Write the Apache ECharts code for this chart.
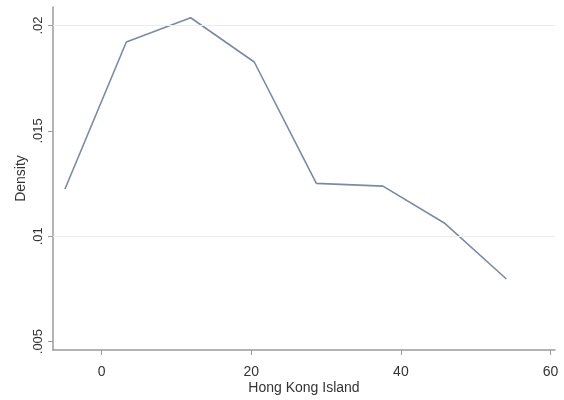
<!DOCTYPE html>
<html>
<head>
<meta charset="utf-8">
<script src="https://cdn.jsdelivr.net/npm/echarts@6/dist/echarts.min.js"></script>
<style>html,body{margin:0;padding:0;background:#fff}#c{width:564px;height:400px}</style>
</head>
<body>
<div id="c"></div>
<script>
const xValues = [-4.9, 3.3, 11.9, 20.4, 28.7, 37.6, 45.8, 54.1];
const densityValues = [0.01224, 0.01922, 0.02037, 0.01827, 0.01251, 0.01238, 0.01063, 0.00797];
const xTicks = [0, 20, 40, 60];
const yTicks = [0.005, 0.01, 0.015, 0.02];
const xTitle = 'Hong Kong Island';
const yTitle = 'Density';

const chart = echarts.init(document.getElementById('c'));
const font = 'Liberation Sans, Arial, sans-serif';
chart.setOption({
  animation: false,
  backgroundColor: '#fff',
  grid: { left: 53, right: 9, top: 7, bottom: 42 },
  xAxis: {
    type: 'value', min: -6.5, max: 60.6,
    name: xTitle, nameLocation: 'middle', nameGap: 31, nameMoveOverlap: false,
    nameTextStyle: { fontFamily: font, fontSize: 14, color: '#333' },
    axisLine: { show: true, onZero: false, lineStyle: { color: '#9a9a9a', width: 1.5 } },
    axisTick: { show: true, customValues: xTicks, length: 5, lineStyle: { color: '#9a9a9a' } },
    axisLabel: { customValues: xTicks, margin: 15, fontFamily: font, fontSize: 14, color: '#333' },
    splitLine: { show: false }
  },
  yAxis: {
    type: 'value', min: 0.0046, max: 0.02088,
    name: yTitle, nameLocation: 'middle', nameGap: 25, nameRotate: 90, nameMoveOverlap: false,
    nameTextStyle: { fontFamily: font, fontSize: 14, color: '#333' },
    axisLine: { show: true, onZero: false, lineStyle: { color: '#9a9a9a', width: 1.5 } },
    axisTick: { show: true, customValues: yTicks, length: 5, lineStyle: { color: '#9a9a9a' } },
    axisLabel: {
      customValues: yTicks, rotate: 90, margin: 8, fontFamily: font, fontSize: 13, color: '#333',
      formatter: v => String(v).replace(/^0/, '')
    },
    splitLine: { show: false }
  },
  series: [{
    type: 'line',
    data: xValues.map((x, i) => [x, densityValues[i]]),
    showSymbol: false,
    lineStyle: { color: '#7a8aa6', width: 1.6 },
    itemStyle: { color: '#7a8aa6' },
    markLine: {
      silent: true, symbol: 'none', label: { show: false },
      lineStyle: { color: '#ececec', type: 'solid', width: 1 },
      data: yTicks.map(t => ({ yAxis: t }))
    },
    z: 3
  }]
});
</script>
</body>
</html>
